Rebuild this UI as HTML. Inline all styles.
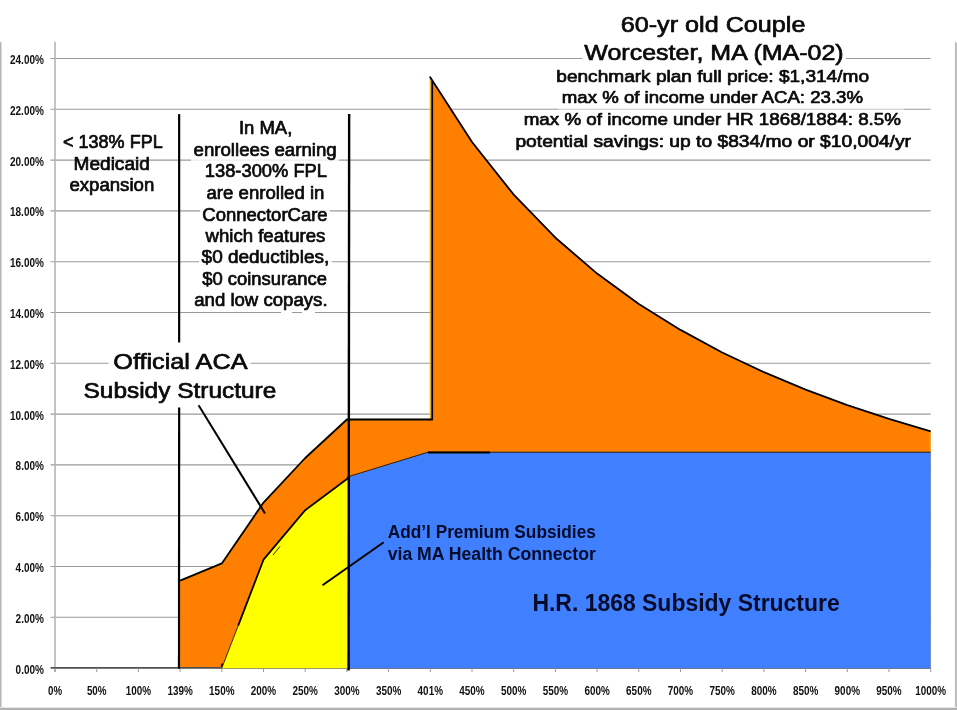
<!DOCTYPE html>
<html><head><meta charset="utf-8"><title>chart</title>
<style>
html,body{margin:0;padding:0;background:#fff;}
body{width:957px;height:710px;overflow:hidden;font-family:"Liberation Sans",sans-serif;}
svg{display:block;}
text{font-family:"Liberation Sans",sans-serif;}
svg{will-change:transform;}
.ax{font-weight:bold;font-size:12.5px;fill:#111;}
.t{fill:#0a0a0a;stroke:#0a0a0a;stroke-width:0.7;stroke-linejoin:round;}
.n{fill:#060b2a;font-weight:bold;}
</style></head><body>
<svg width="957" height="710" viewBox="0 0 957 710">

<rect x="0" y="42" width="1.5" height="668" fill="#b6b6b6"/>
<rect x="954.9" y="42.3" width="2.1" height="668" fill="#bebebe"/>
<rect x="0" y="707" width="957" height="1" fill="#ececec"/>
<rect x="0" y="707.9" width="957" height="2.1" fill="#b2b2b2"/>
<line x1="50.6" y1="617.3" x2="930.6" y2="617.3" stroke="#9a9a9a" stroke-width="1.1"/>
<line x1="50.6" y1="566.5" x2="930.6" y2="566.5" stroke="#9a9a9a" stroke-width="1.1"/>
<line x1="50.6" y1="515.7" x2="930.6" y2="515.7" stroke="#9a9a9a" stroke-width="1.1"/>
<line x1="50.6" y1="464.9" x2="930.6" y2="464.9" stroke="#9a9a9a" stroke-width="1.1"/>
<line x1="50.6" y1="414.1" x2="930.6" y2="414.1" stroke="#9a9a9a" stroke-width="1.1"/>
<line x1="50.6" y1="363.3" x2="930.6" y2="363.3" stroke="#9a9a9a" stroke-width="1.1"/>
<line x1="50.6" y1="312.5" x2="930.6" y2="312.5" stroke="#9a9a9a" stroke-width="1.1"/>
<line x1="50.6" y1="261.7" x2="930.6" y2="261.7" stroke="#9a9a9a" stroke-width="1.1"/>
<line x1="50.6" y1="210.9" x2="930.6" y2="210.9" stroke="#9a9a9a" stroke-width="1.1"/>
<line x1="50.6" y1="160.1" x2="930.6" y2="160.1" stroke="#9a9a9a" stroke-width="1.1"/>
<line x1="50.6" y1="109.3" x2="930.6" y2="109.3" stroke="#9a9a9a" stroke-width="1.1"/>
<line x1="50.6" y1="58.5" x2="930.6" y2="58.5" stroke="#9a9a9a" stroke-width="1.1"/>
<line x1="55" y1="41.7" x2="55" y2="672" stroke="#b4b4b4" stroke-width="1.6"/>
<polygon points="180.1,668.3 180.1,580.7 221.8,563.4 263.5,502.6 305.2,458.0 346.9,419.5 432.2,419.5 432.2,80.5 430.2,77.2 472.0,142.0 513.7,194.6 555.4,237.7 597.1,273.6 638.8,303.9 680.5,329.9 722.2,352.5 763.9,372.2 805.6,389.6 847.3,405.1 889.0,418.9 930.7,431.4 930.7,668.3" fill="#ff8000"/>
<line x1="50.6" y1="667.8" x2="930.6" y2="667.8" stroke="#505050" stroke-width="1.7"/>
<polygon points="348.8,668.3 349.0,477.0 428.0,452.2 930.7,452.2 930.7,668.3" fill="#4080ff"/>
<polygon points="221.8,668.3 221.8,668.1 263.5,559.7 305.2,510.2 348.6,477.8 349.0,479.0 348.8,668.3" fill="#ffff00"/>
<line x1="55.0" y1="668.3" x2="55.0" y2="672" stroke="#9a9a9a" stroke-width="1"/>
<line x1="96.7" y1="668.3" x2="96.7" y2="672" stroke="#9a9a9a" stroke-width="1"/>
<line x1="138.4" y1="668.3" x2="138.4" y2="672" stroke="#9a9a9a" stroke-width="1"/>
<line x1="180.1" y1="668.3" x2="180.1" y2="672" stroke="#9a9a9a" stroke-width="1"/>
<line x1="221.8" y1="668.3" x2="221.8" y2="672" stroke="#9a9a9a" stroke-width="1"/>
<line x1="263.5" y1="668.3" x2="263.5" y2="672" stroke="#9a9a9a" stroke-width="1"/>
<line x1="305.2" y1="668.3" x2="305.2" y2="672" stroke="#9a9a9a" stroke-width="1"/>
<line x1="346.9" y1="668.3" x2="346.9" y2="672" stroke="#9a9a9a" stroke-width="1"/>
<line x1="388.6" y1="668.3" x2="388.6" y2="672" stroke="#9a9a9a" stroke-width="1"/>
<line x1="430.3" y1="668.3" x2="430.3" y2="672" stroke="#9a9a9a" stroke-width="1"/>
<line x1="472.0" y1="668.3" x2="472.0" y2="672" stroke="#9a9a9a" stroke-width="1"/>
<line x1="513.7" y1="668.3" x2="513.7" y2="672" stroke="#9a9a9a" stroke-width="1"/>
<line x1="555.4" y1="668.3" x2="555.4" y2="672" stroke="#9a9a9a" stroke-width="1"/>
<line x1="597.1" y1="668.3" x2="597.1" y2="672" stroke="#9a9a9a" stroke-width="1"/>
<line x1="638.8" y1="668.3" x2="638.8" y2="672" stroke="#9a9a9a" stroke-width="1"/>
<line x1="680.5" y1="668.3" x2="680.5" y2="672" stroke="#9a9a9a" stroke-width="1"/>
<line x1="722.2" y1="668.3" x2="722.2" y2="672" stroke="#9a9a9a" stroke-width="1"/>
<line x1="763.9" y1="668.3" x2="763.9" y2="672" stroke="#9a9a9a" stroke-width="1"/>
<line x1="805.6" y1="668.3" x2="805.6" y2="672" stroke="#9a9a9a" stroke-width="1"/>
<line x1="847.3" y1="668.3" x2="847.3" y2="672" stroke="#9a9a9a" stroke-width="1"/>
<line x1="889.0" y1="668.3" x2="889.0" y2="672" stroke="#9a9a9a" stroke-width="1"/>
<line x1="930.7" y1="668.3" x2="930.7" y2="672" stroke="#9a9a9a" stroke-width="1"/>
<line x1="430.7" y1="79.0" x2="430.7" y2="420.0" stroke="#e8b020" stroke-width="2"/>
<line x1="930.1" y1="431.9" x2="930.1" y2="452.2" stroke="#e8b020" stroke-width="1"/>
<polyline points="180.1,580.7 221.8,563.4 263.5,502.6 305.2,458.0 346.9,419.5 432.2,419.5 432.2,80.5 430.2,77.2 472.0,142.0 513.7,194.6 555.4,237.7 597.1,273.6 638.8,303.9 680.5,329.9 722.2,352.5 763.9,372.2 805.6,389.6 847.3,405.1 889.0,418.9 930.7,431.4" fill="none" stroke="#000" stroke-width="1.8" stroke-linejoin="round"/>
<line x1="221.8" y1="668.1" x2="238.5" y2="624.8" stroke="#000" stroke-width="0.8"/>
<polyline points="238.2,625.6 263.5,559.7 305.2,510.2 348.6,477.8" fill="none" stroke="#000" stroke-width="1.8" stroke-linejoin="round"/>
<line x1="221.3" y1="666.5" x2="222.3" y2="663.5" stroke="#000" stroke-width="1.6"/>
<polyline points="346.9,477.1 428.0,452.2 930.7,452.2" fill="none" stroke="#000" stroke-width="0.8"/>
<line x1="428" y1="452.5" x2="490" y2="452.5" stroke="#000" stroke-width="2"/>
<line x1="179.15" y1="114.1" x2="179.15" y2="342.5" stroke="#000" stroke-width="2.2"/>
<line x1="179.15" y1="407.5" x2="179.0" y2="668.8" stroke="#000" stroke-width="2.2"/>
<line x1="349.15" y1="114.1" x2="348.6" y2="670.5" stroke="#000" stroke-width="2.4"/>
<line x1="198.6" y1="405.3" x2="265" y2="513.4" stroke="#000" stroke-width="2"/>
<line x1="383.7" y1="542.3" x2="322.5" y2="585.2" stroke="#000" stroke-width="2"/>
<line x1="273" y1="555" x2="280" y2="546.5" stroke="#111" stroke-width="0.9"/>
<rect x="582.5" y="56.0" width="263.5" height="5.0" fill="#fff" opacity="1"/>
<rect x="191.0" y="157.0" width="148.0" height="6.0" fill="#fff" opacity="0.8"/>
<rect x="200.0" y="208.0" width="130.0" height="6.0" fill="#fff" opacity="0.85"/>
<rect x="199.0" y="259.0" width="133.0" height="6.0" fill="#fff" opacity="0.85"/>
<rect x="108.6" y="360.0" width="142.0" height="6.0" fill="#fff" opacity="1"/>
<rect x="558" y="107.5" width="346" height="4" fill="#fff" opacity="0.45"/>
<rect x="281.0" y="310.5" width="11.0" height="4.0" fill="#fff" opacity="1"/>
<rect x="302.0" y="310.5" width="13.0" height="4.0" fill="#fff" opacity="1"/>
<text class="ax" x="15.6" y="673.5" textLength="28.3" lengthAdjust="spacingAndGlyphs">0.00%</text>
<text class="ax" x="15.6" y="622.7" textLength="28.3" lengthAdjust="spacingAndGlyphs">2.00%</text>
<text class="ax" x="15.6" y="571.9" textLength="28.3" lengthAdjust="spacingAndGlyphs">4.00%</text>
<text class="ax" x="15.6" y="521.1" textLength="28.3" lengthAdjust="spacingAndGlyphs">6.00%</text>
<text class="ax" x="15.6" y="470.3" textLength="28.3" lengthAdjust="spacingAndGlyphs">8.00%</text>
<text class="ax" x="10.0" y="419.5" textLength="33.9" lengthAdjust="spacingAndGlyphs">10.00%</text>
<text class="ax" x="10.0" y="368.7" textLength="33.9" lengthAdjust="spacingAndGlyphs">12.00%</text>
<text class="ax" x="10.0" y="317.9" textLength="33.9" lengthAdjust="spacingAndGlyphs">14.00%</text>
<text class="ax" x="10.0" y="267.1" textLength="33.9" lengthAdjust="spacingAndGlyphs">16.00%</text>
<text class="ax" x="10.0" y="216.3" textLength="33.9" lengthAdjust="spacingAndGlyphs">18.00%</text>
<text class="ax" x="10.0" y="165.5" textLength="33.9" lengthAdjust="spacingAndGlyphs">20.00%</text>
<text class="ax" x="10.0" y="114.7" textLength="33.9" lengthAdjust="spacingAndGlyphs">22.00%</text>
<text class="ax" x="10.0" y="63.9" textLength="33.9" lengthAdjust="spacingAndGlyphs">24.00%</text>
<text class="ax" x="48.0" y="695.1" textLength="14.0" lengthAdjust="spacingAndGlyphs">0%</text>
<text class="ax" x="86.9" y="695.1" textLength="19.6" lengthAdjust="spacingAndGlyphs">50%</text>
<text class="ax" x="125.7" y="695.1" textLength="25.4" lengthAdjust="spacingAndGlyphs">100%</text>
<text class="ax" x="167.4" y="695.1" textLength="25.4" lengthAdjust="spacingAndGlyphs">139%</text>
<text class="ax" x="209.1" y="695.1" textLength="25.4" lengthAdjust="spacingAndGlyphs">150%</text>
<text class="ax" x="250.8" y="695.1" textLength="25.4" lengthAdjust="spacingAndGlyphs">200%</text>
<text class="ax" x="292.5" y="695.1" textLength="25.4" lengthAdjust="spacingAndGlyphs">250%</text>
<text class="ax" x="334.2" y="695.1" textLength="25.4" lengthAdjust="spacingAndGlyphs">300%</text>
<text class="ax" x="375.9" y="695.1" textLength="25.4" lengthAdjust="spacingAndGlyphs">350%</text>
<text class="ax" x="417.6" y="695.1" textLength="25.4" lengthAdjust="spacingAndGlyphs">401%</text>
<text class="ax" x="459.3" y="695.1" textLength="25.4" lengthAdjust="spacingAndGlyphs">450%</text>
<text class="ax" x="501.0" y="695.1" textLength="25.4" lengthAdjust="spacingAndGlyphs">500%</text>
<text class="ax" x="542.7" y="695.1" textLength="25.4" lengthAdjust="spacingAndGlyphs">550%</text>
<text class="ax" x="584.4" y="695.1" textLength="25.4" lengthAdjust="spacingAndGlyphs">600%</text>
<text class="ax" x="626.1" y="695.1" textLength="25.4" lengthAdjust="spacingAndGlyphs">650%</text>
<text class="ax" x="667.8" y="695.1" textLength="25.4" lengthAdjust="spacingAndGlyphs">700%</text>
<text class="ax" x="709.5" y="695.1" textLength="25.4" lengthAdjust="spacingAndGlyphs">750%</text>
<text class="ax" x="751.2" y="695.1" textLength="25.4" lengthAdjust="spacingAndGlyphs">800%</text>
<text class="ax" x="792.9" y="695.1" textLength="25.4" lengthAdjust="spacingAndGlyphs">850%</text>
<text class="ax" x="834.6" y="695.1" textLength="25.4" lengthAdjust="spacingAndGlyphs">900%</text>
<text class="ax" x="876.3" y="695.1" textLength="25.4" lengthAdjust="spacingAndGlyphs">950%</text>
<text class="ax" x="915.3" y="695.1" textLength="30.8" lengthAdjust="spacingAndGlyphs">1000%</text>
<text class="t" font-size="22" x="620.7" y="31.6" textLength="184.8" lengthAdjust="spacingAndGlyphs">60-yr old Couple</text>
<text class="t" font-size="22" x="584.3" y="60.4" textLength="259.4" lengthAdjust="spacingAndGlyphs">Worcester, MA (MA-02)</text>
<text class="t" font-size="17" x="556.3" y="82.3" textLength="312.7" lengthAdjust="spacingAndGlyphs">benchmark plan full price: $1,314/mo</text>
<text class="t" font-size="17" x="561.8" y="103.4" textLength="301.2" lengthAdjust="spacingAndGlyphs">max % of income under ACA: 23.3%</text>
<text class="t" font-size="17" x="523.7" y="125.4" textLength="377.3" lengthAdjust="spacingAndGlyphs">max % of income under HR 1868/1884: 8.5%</text>
<text class="t" font-size="17" x="515.4" y="147.2" textLength="395.6" lengthAdjust="spacingAndGlyphs">potential savings: up to $834/mo or $10,004/yr</text>
<text class="t" font-size="18" x="63.0" y="148.0" textLength="99.7" lengthAdjust="spacingAndGlyphs">&lt; 138% FPL</text>
<text class="t" font-size="18" x="73.6" y="169.6" textLength="76.2" lengthAdjust="spacingAndGlyphs">Medicaid</text>
<text class="t" font-size="18" x="69.4" y="190.7" textLength="84.9" lengthAdjust="spacingAndGlyphs">expansion</text>
<text class="t" font-size="18" x="238.9" y="134.0" textLength="53.4" lengthAdjust="spacingAndGlyphs">In MA,</text>
<text class="t" font-size="18" x="193.5" y="155.7" textLength="143.2" lengthAdjust="spacingAndGlyphs">enrollees earning</text>
<text class="t" font-size="18" x="204.8" y="177.1" textLength="122.2" lengthAdjust="spacingAndGlyphs">138-300% FPL</text>
<text class="t" font-size="18" x="206.5" y="198.8" textLength="117.9" lengthAdjust="spacingAndGlyphs">are enrolled in</text>
<text class="t" font-size="18" x="202.3" y="220.5" textLength="125.3" lengthAdjust="spacingAndGlyphs">ConnectorCare</text>
<text class="t" font-size="18" x="205.5" y="241.9" textLength="119.9" lengthAdjust="spacingAndGlyphs">which features</text>
<text class="t" font-size="18" x="201.6" y="263.2" textLength="127.6" lengthAdjust="spacingAndGlyphs">$0 deductibles,</text>
<text class="t" font-size="18" x="202.3" y="285.0" textLength="124.7" lengthAdjust="spacingAndGlyphs">$0 coinsurance</text>
<text class="t" font-size="18" x="194.2" y="306.4" textLength="133.4" lengthAdjust="spacingAndGlyphs">and low copays.</text>
<text class="t" font-size="22" x="113.3" y="369.2" textLength="134.2" lengthAdjust="spacingAndGlyphs">Official ACA</text>
<text class="t" font-size="22" x="83.5" y="398.3" textLength="192.8" lengthAdjust="spacingAndGlyphs">Subsidy Structure</text>
<text class="n" font-size="17.5" x="387.7" y="538.2" textLength="208.2" lengthAdjust="spacingAndGlyphs">Add’l Premium Subsidies</text>
<text class="n" font-size="17.5" x="387.7" y="559.5" textLength="208.2" lengthAdjust="spacingAndGlyphs">via MA Health Connector</text>
<text class="n" font-size="23" x="532.4" y="610.9" textLength="307.3" lengthAdjust="spacingAndGlyphs">H.R. 1868 Subsidy Structure</text>
</svg></body></html>
